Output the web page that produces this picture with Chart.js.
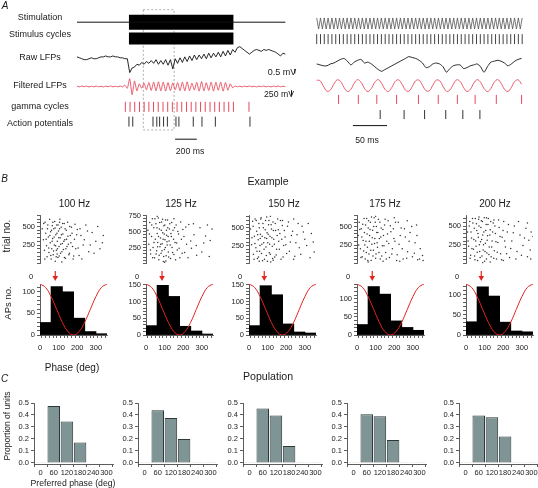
<!DOCTYPE html>
<html lang="en">
<head>
<meta charset="utf-8">
<title>Gamma phase locking</title>
<script src="https://cdn.jsdelivr.net/npm/chart.js@4.4.1/dist/chart.umd.min.js"></script>
<style>
  body { margin: 0; width: 538px; height: 488px; position: relative; overflow: hidden; background: #fff;
         font-family: "Liberation Sans", Arial, sans-serif; color: #1a1a1a; }
  canvas { position: absolute; }
  .txt { position: absolute; white-space: nowrap; line-height: 1; transform: translate(-50%, -50%); font-size: 9px; }
  .vert { transform: translate(-50%, -50%) rotate(-90deg); }
  .letra { font-style: italic; }
</style>
</head>
<body>
<script>
// ---------- Painel A: registro longo (tempo em ms, estímulo começa em 0) ----------
const inicioA = -477;      // início do traçado
const passoA = 22;         // ms entre amostras
const estimuloFim = 960;
// LFP bruto (mV)
const lfpBruto = [0.2,0.1,0,-0.1,-0.1,0,0.1,0,0,0.1,0.2,0.2,0.3,0.2,0.2,0.3,0.2,0.2,0.1,0.1,0,0,
  -1.5,-1.0,-0.9,-0.6,-0.7,-0.4,-0.6,-0.3,-0.5,-0.2,-0.5,-0.1,-0.6,-0.2,-0.6,-0.1,-0.7,-0.1,-1.1,0,
  -0.5,0.1,-0.4,0.2,-0.3,0.3,-0.2,0.4,-0.1,0.4,0,0.5,0,0.6,0.1,0.6,0.2,0.7,0.2,0.8,
  0.3,0.9,0.4,1.0,0.7,1.2,1.3,1.1,0.9,0.7,0.5,0.7,0.9,1.0,0.9,0.8,1.0,0.9,1.0,0.9,
  0.8,0.7,0.5,0.3,0.6,0.5];
// LFP filtrado na banda gama
const lfpFiltrado = [15,-15,20,-10,15,-20,10,-15,20,-15,10,-20,15,-10,20,-15,10,-15,20,-20,
  60,-80,
  350,-370,250,-200,120,-80,150,-150,180,-180,200,-200,210,-200,200,-210,180,-190,160,-150,170,-190,
  200,-200,210,-190,150,-160,190,-210,220,-200,170,-180,200,-210,190,-170,200,-210,180,-170,120,-60,
  20,-15,10,-20,15,-10,20,-15,10,-20,15,-10,20,-15,10,-20,15,-10,20,-15,10,-10];
const ciclosGama = [-33,10,53,97,140,183,226,269,313,356,399,442,485,529,572,615,658,701,745,788,831,874,917,960,1103];
const potenciaisAcao = [0,35,221,256,282,318,353,432,459,591,671,794,1112];

// ---------- Painel A: trecho ampliado (ms) ----------
const passoZoom = 5;
const ciclosEstimulo = [0,5.6,11.1,16.7,22.3,27.9,33.4,39.0,44.6,50.1,55.7,61.3,66.9,72.4,78.0,83.6,89.1,94.7,
  100.3,105.9,111.4,117.0,122.6,128.1,133.7,139.3,144.9,150.4,156.0,161.6,167.1,172.7,178.3,183.9,189.4,195.0,
  200.6,206.1,211.7,217.3,222.9,228.4,234.0,239.6,245.1,250.7,256.3,261.9,267.4,273.0,278.6,284.1,289.7,295.3,300.9];
const lfpBrutoZoom = [0,-0.1,-0.2,-0.2,0,0.1,0.3,0.5,0.6,0.3,-0.1,0.2,0.4,0.5,0.1,0.2,0,-0.3,-0.6,-0.8,
  -0.6,-0.4,-0.2,0,0.2,0.4,0.6,0.8,0.7,0.6,0.4,0.1,-0.4,-0.3,0,0.1,0,-0.3,-0.9,-0.5,
  -0.2,-0.1,-0.1,-0.5,-0.4,-0.2,-0.1,0,-0.3,-0.9,-0.3,0.2,0.3,0.4,0.3,0.1,-0.2,0,0.3,0.5,0.6];
const lfpFiltradoZoom = [0.9,0.81,-0.13,-0.94,-0.75,0.22,0.96,0.69,-0.31,-0.98,-0.62,0.4,0.99,0.55,-0.48,-1,-0.48,
  0.55,1,0.39,-0.62,-0.98,-0.31,0.69,0.96,0.22,-0.75,-0.94,-0.13,0.81,0.9,0.04,-0.86,-0.86,0.04,
  0.9,0.81,-0.13,-0.94,-0.75,0.22,0.96,0.69,-0.31,-0.98,-0.62,0.4,0.99,0.55,-0.48,-1,-0.48,
  0.55,1,0.39,-0.62,-0.98,-0.31,0.69,0.96,0.22];
const ciclosGamaZoom = [32,61,88,117,149,178,206,232,263,300];
const potenciaisZoom = [93,128,158,189,214,239];

// ---------- Painel B: exemplo ----------
const frequencias = ['100 Hz','125 Hz','150 Hz','175 Hz','200 Hz'];
const fasesBins = [30,90,150,210,270,330];
const aps100 = [29,112,100,39,8,3];
const aps125 = [28,148,115,26,12,3];
const aps150 = [28,147,120,33,9,6];
const aps175 = [29,134,113,39,21,13];
const aps200 = [33,120,97,32,10,8];
const eixoMaxAps = [118,152,152,141,127];
const eixoMaxEnsaios = [650,750,670,650,640];
const fasePreferida = [82,86,82,82,82];
const fasesCos = [0,30,60,90,120,150,180,210,240,270,300,330,360];
const cossenoNorm = [1,0.933,0.75,0.5,0.25,0.067,0,0.067,0.25,0.5,0.75,0.933,1];
// rasters: [fase (graus), ensaio]
const raster100 = [[12,470],[18,320],[24,180],[27,560],[31,410],[35,240],[38,90],[42,520],[45,360],[48,150],[52,600],[55,280],[57,430],[60,60],[63,200],[66,510],[68,340],[71,120],[74,470],[77,250],[79,570],[82,30],[85,390],[88,180],[90,520],[93,300],[96,80],[99,440],[102,230],[105,560],[108,350],[110,140],[114,490],[117,20],[120,270],[123,400],[126,190],[130,540],[133,320],[137,70],[141,450],[145,230],[150,370],[155,120],[160,500],[166,280],[172,410],[178,60],[185,330],[192,200],[200,460],[210,110],[220,380],[232,250],[246,520],[262,160],[280,420],[300,300],[322,200],[340,380],
  [20,540],[26,60],[33,330],[40,470],[47,210],[53,380],[58,110],[62,450],[65,300],[69,560],[73,170],[76,360],[81,480],[84,240],[87,90],[91,410],[94,200],[97,520],[101,350],[103,100],[107,600],[111,260],[115,390],[118,160],[122,540],[128,300],[131,80],[135,470],[139,200],[143,330],[148,560],[152,260],[158,140],[163,380],[169,490],[175,230],[181,100],[188,530],[197,390],[205,210],[215,470],[225,60],[238,320],[255,440],[270,250],[290,140],[310,500],[335,280],[105,470],[92,130]];
const raster125 = [[10,520],[15,300],[20,640],[25,150],[30,420],[34,700],[38,250],[42,560],[46,90],[50,380],[53,620],[57,200],[60,470],[63,330],[66,710],[69,60],[72,540],[75,260],[78,400],[81,160],[84,650],[87,310],[90,480],[93,30],[96,590],[99,220],[102,370],[105,680],[108,120],[111,440],[114,290],[117,560],[120,180],[124,350],[128,620],[132,80],[136,420],[140,250],[145,520],[150,140],[156,330],[162,600],[168,210],[175,460],[182,90],[190,380],[198,530],[208,170],[218,300],[230,610],[244,240],[258,450],[272,130],[290,560],[310,320],[330,600],[345,360],[60,740],[100,20],[150,700],
  [18,460],[24,210],[31,600],[36,90],[43,330],[48,700],[54,150],[59,560],[62,260],[67,420],[71,130],[74,640],[79,300],[82,520],[86,200],[89,690],[92,380],[95,110],[98,460],[101,600],[104,250],[107,40],[110,520],[113,340],[116,680],[119,420],[122,100],[126,540],[130,290],[134,470],[138,640],[143,170],[148,380],[153,560],[159,60],[165,320],[171,500],[178,240],[186,650],[194,160],[204,420],[214,570],[226,90],[240,350],[255,620],[270,280],[300,180],[320,430],[340,110],[355,540]];
const raster150 = [[8,480],[14,260],[19,590],[24,130],[29,380],[33,620],[37,220],[41,450],[45,70],[49,330],[53,560],[57,170],[61,410],[65,640],[69,270],[73,40],[77,500],[81,200],[85,360],[89,600],[93,110],[97,430],[101,290],[105,540],[109,150],[113,380],[117,20],[121,480],[125,240],[129,580],[133,340],[138,90],[143,460],[148,200],[154,620],[160,310],[166,420],[172,60],[179,530],[186,250],[194,370],[202,140],[212,580],[222,300],[234,450],[246,100],[258,400],[270,220],[285,520],[300,340],[318,560],[335,420],[350,160],[95,650],[115,660],[55,30],[130,45],[180,600],[240,620],[60,350],
  [16,360],[22,520],[27,60],[32,280],[39,600],[43,170],[47,400],[51,90],[55,500],[59,250],[63,620],[67,140],[71,380],[75,560],[79,290],[83,60],[87,470],[91,230],[95,350],[99,30],[103,410],[107,600],[111,270],[115,130],[119,540],[123,360],[127,70],[131,460],[136,270],[141,560],[146,120],[151,390],[157,470],[163,200],[169,600],[176,340],[183,90],[190,460],[198,260],[207,520],[217,170],[228,390],[240,60],[252,290],[264,560],[278,130],[292,440],[310,250],[328,80],[345,300]];
const raster175 = [[6,380],[12,560],[18,200],[23,470],[28,90],[33,310],[38,610],[42,250],[46,520],[50,150],[54,400],[58,40],[62,580],[66,300],[70,460],[74,180],[78,630],[82,350],[86,100],[90,500],[94,270],[98,560],[102,130],[106,420],[110,220],[115,600],[120,340],[125,60],[130,480],[136,240],[142,380],[148,520],[154,150],[160,300],[167,580],[174,80],[182,430],[190,200],[198,340],[207,560],[216,120],[226,260],[237,480],[248,60],[260,360],[272,160],[285,420],[298,90],[312,280],[326,50],[340,200],[352,110],[320,520],[270,580],[200,620],[100,640],[60,20],[140,30],[230,30],[355,40],
  [9,250],[15,460],[21,80],[26,360],[31,530],[36,170],[40,420],[44,60],[48,300],[52,610],[56,220],[60,480],[64,130],[68,380],[72,560],[76,40],[80,260],[84,450],[88,180],[92,620],[96,340],[100,70],[104,500],[108,280],[112,420],[118,150],[123,560],[128,360],[133,100],[139,460],[145,240],[151,600],[157,60],[164,400],[171,270],[179,510],[187,130],[195,470],[204,300],[213,40],[222,560],[232,380],[243,200],[255,470],[267,70],[280,300],[294,500],[308,140],[322,380],[336,60]];
const raster200 = [[8,420],[14,230],[20,560],[25,110],[30,340],[35,600],[40,190],[44,470],[48,50],[52,300],[56,530],[60,150],[64,400],[68,590],[72,250],[76,80],[80,480],[84,320],[88,560],[92,180],[96,420],[100,30],[104,270],[108,520],[112,140],[116,370],[120,600],[125,220],[130,450],[135,90],[140,300],[146,540],[152,170],[158,400],[164,60],[171,280],[178,480],[186,130],[194,350],[203,560],[212,220],[222,420],[234,80],[246,300],[260,500],[274,160],[290,380],[306,240],[322,470],[338,310],[350,420],[345,180],[330,90],[360,360],[70,620],[110,610],[150,580],[90,10],[130,20],[200,40],
  [11,300],[17,500],[22,70],[27,420],[32,200],[37,540],[42,320],[46,100],[50,600],[54,230],[58,440],[62,40],[66,350],[70,500],[74,160],[78,290],[82,570],[86,100],[90,380],[94,250],[98,610],[102,160],[106,440],[110,60],[114,310],[118,520],[123,120],[128,380],[133,560],[138,220],[143,420],[149,70],[155,500],[161,290],[168,150],[175,580],[183,360],[191,50],[199,440],[208,300],[218,130],[228,520],[240,200],[254,410],[268,60],[282,560],[298,110],[314,340],[330,540],[348,60]];

// ---------- Painel C: população ----------
const fasesPop = ['0','60','120','180','240','300'];
const prop100 = [0.004,0.475,0.345,0.17,0.003,0.003];
const prop125 = [0.004,0.44,0.375,0.2,0.004,0.004];
const prop150 = [0.004,0.455,0.395,0.14,0.004,0.004];
const prop175 = [0.004,0.405,0.39,0.19,0.004,0.004];
const prop200 = [0.004,0.395,0.38,0.22,0.004,0.004];

// Configurações gerais
Chart.defaults.font.family = '"Liberation Sans", Arial, sans-serif';
Chart.defaults.font.size = 7.5;
Chart.defaults.color = '#222';
Chart.defaults.animation = false;
Chart.defaults.responsive = false;
Chart.defaults.events = [];
Chart.defaults.plugins.legend.display = false;
Chart.defaults.plugins.tooltip.enabled = false;

const vermelhoLfp = '#e8485a';
const vermelho = '#e3241f';

// Função para criar um canvas posicionado
function criarCanvas(x, y, w, h) {
  const c = document.createElement('canvas');
  c.width = w; c.height = h;
  c.style.left = x + 'px'; c.style.top = y + 'px';
  document.body.appendChild(c);
  return c;
}

// Função para escrever um texto centrado em (x, y)
function escrever(texto, x, y, tam, classe) {
  const d = document.createElement('div');
  d.className = 'txt' + (classe ? ' ' + classe : '');
  d.textContent = texto;
  d.style.left = x + 'px'; d.style.top = y + 'px';
  if (tam) d.style.fontSize = tam + 'px';
  document.body.appendChild(d);
}

function linha(pontos, cor, largura, extra) {
  return Object.assign({ data: pontos, showLine: true, pointRadius: 0, borderColor: cor, borderWidth: largura, tension: 0 }, extra || {});
}

// marcas verticais (ciclos, potenciais de ação)
function tracos(tempos, yCentro, raio, cor) {
  return { data: tempos.map(t => ({ x: t, y: yCentro })), showLine: false, pointStyle: 'line', pointRotation: 90,
           pointRadius: raio, pointBorderColor: cor, pointBorderWidth: 1 };
}

function opcoesTraco(xmin, xmax, altura) {
  return {
    layout: { padding: 0 },
    scales: {
      x: { type: 'linear', display: false, min: xmin, max: xmax },
      y: { type: 'linear', display: false, min: 0, max: altura, reverse: true }
    }
  };
}

// marcas de eixo a cada "passo", de 0 até o máximo
function marcasEixo(passo) {
  return s => {
    const marcas = [];
    for (let k = 0; k * passo <= s.max + 1e-9; k++) marcas.push({ value: Math.round(k * passo * 1000) / 1000 });
    s.ticks = marcas;
  };
}

// ----- Painel A, esquerda -----
const pxPorMsA = 0.1133, origemA = 128;
const fimA = inicioA + (lfpBruto.length - 1) * passoA;
new Chart(criarCanvas(0, 0, 304, 160), {
  type: 'scatter',
  data: {
    datasets: [
      linha([{ x: inicioA, y: 17.5 }, { x: fimA, y: 17.5 }], '#111', 1),
      linha([{ x: 0, y: 17.5 }, { x: estimuloFim, y: 17.5 }], '#000', 15, { borderCapStyle: 'butt' }),
      linha([{ x: 0, y: 35 }, { x: estimuloFim, y: 35 }], '#000', 12, { borderCapStyle: 'butt' }),
      linha(lfpBruto.map((v, i) => ({ x: inicioA + i * passoA, y: 57 - v * 10 })), '#111', 0.9),
      linha(lfpFiltrado.map((v, i) => ({ x: inicioA + i * passoA, y: 87 - v * 0.024 })), vermelhoLfp, 0.9, { tension: 0.2 }),
      tracos(ciclosGama, 109, 5, vermelhoLfp),
      tracos(potenciaisAcao, 125, 5, '#333'),
      linha([{ x: 132, y: 4 }, { x: 415, y: 4 }, { x: 415, y: 134 }, { x: 132, y: 134 }, { x: 132, y: 4 }], '#999', 0.8, { borderDash: [2, 2] }),
      linha([{ x: 424, y: 144 }, { x: 624, y: 144 }], '#111', 1),
      linha([{ x: 1524, y: 73 }, { x: 1524, y: 73 - 0.5 * 10 }], '#111', 1),
      linha([{ x: 1494, y: 97 }, { x: 1494, y: 97 - 250 * 0.024 }], '#111', 1)
    ]
  },
  options: opcoesTraco(-origemA / pxPorMsA, (304 - origemA) / pxPorMsA, 160)
});

// ----- Painel A, direita (ampliação) -----
const pxPorMsZ = 0.72;
const zigue = [];
ciclosEstimulo.forEach((t, k) => {
  zigue.push({ x: t, y: 13 });
  if (k < ciclosEstimulo.length - 1) zigue.push({ x: (t + ciclosEstimulo[k + 1]) / 2, y: 25 });
});
new Chart(criarCanvas(305, 0, 233, 150), {
  type: 'scatter',
  data: {
    datasets: [
      linha(zigue, '#555', 0.8),
      tracos(ciclosEstimulo, 36, 5, '#444'),
      linha(lfpBrutoZoom.map((v, i) => ({ x: i * passoZoom, y: 63 - v * 10 })), '#111', 0.9, { tension: 0.2 }),
      linha(lfpFiltradoZoom.map((v, i) => ({ x: i * passoZoom, y: 86.5 - v * 6.5 })), vermelhoLfp, 0.9, { tension: 0.4 }),
      tracos(ciclosGamaZoom, 101.5, 4.5, vermelhoLfp),
      tracos(potenciaisZoom, 118, 4.5, '#333'),
      linha([{ x: 53, y: 130 }, { x: 103, y: 130 }], '#111', 1)
    ]
  },
  options: opcoesTraco(-6 / pxPorMsZ, 227 / pxPorMsZ, 150)
});

// ----- Painel B -----
const eixoB = (cfg) => Object.assign({
  grid: { drawOnChartArea: false, tickLength: 3, color: '#333', lineWidth: 0.8 },
  border: { color: '#333', width: 0.8 }
}, cfg);

// seta vermelha indicando a fase preferida
const setaFase = {
  id: 'setaFase',
  afterDatasetsDraw(chart, args, opts) {
    const ctx = chart.ctx, area = chart.chartArea;
    const px = chart.scales.x.getPixelForValue(opts.fase);
    ctx.save();
    ctx.strokeStyle = vermelho; ctx.fillStyle = vermelho; ctx.lineWidth = 1.2;
    ctx.beginPath(); ctx.moveTo(px, area.top - 13); ctx.lineTo(px, area.top - 7); ctx.stroke();
    ctx.beginPath(); ctx.moveTo(px - 2.8, area.top - 8); ctx.lineTo(px + 2.8, area.top - 8); ctx.lineTo(px, area.top - 3); ctx.closePath(); ctx.fill();
    ctx.restore();
  }
};

function criarRaster(eixoX, pontos, ymax) {
  new Chart(criarCanvas(eixoX - 30, 208, 103, 62), {
    type: 'scatter',
    data: { datasets: [{ data: pontos.map(p => ({ x: p[0], y: p[1] })), pointRadius: 0.75, pointBackgroundColor: '#333', pointBorderWidth: 0 }] },
    options: {
      layout: { padding: { top: 7.5, right: 6, bottom: 4.5, left: 0 } },
      scales: {
        x: { type: 'linear', display: false, min: 0, max: 360 },
        y: eixoB({
          min: 0, max: ymax,
          ticks: { autoSkip: false, padding: 2, callback: v => (v > 0 && v % 250 === 0 ? String(v) : '') },
          afterBuildTicks: marcasEixo(50),
          afterFit: s => { s.width = 30; }
        })
      }
    }
  });
}

function criarHistograma(eixoX, contagens, ymax, fase) {
  const larguraArea = 67;
  new Chart(criarCanvas(eixoX - 30, 268, larguraArea + 36, 87), {
    type: 'bar',
    data: {
      datasets: [
        { type: 'line', data: fasesCos.map((f, k) => ({ x: f, y: cossenoNorm[k] * ymax })), borderColor: vermelho,
          borderWidth: 1, pointRadius: 0, tension: 0.4, order: 0 },
        { type: 'bar', data: fasesBins.map((f, k) => ({ x: f, y: contagens[k] })), backgroundColor: '#000',
          barThickness: larguraArea / 6 + 0.3, order: 1 }
      ]
    },
    options: {
      layout: { padding: { top: 16, right: 6, left: 0, bottom: 0 } },
      plugins: { setaFase: { fase: fase } },
      scales: {
        x: eixoB({
          type: 'linear', min: 0, max: 360, offset: false,
          ticks: { autoSkip: false, maxRotation: 0, padding: 5, callback: v => (v % 100 === 0 ? String(v) : '') },
          afterBuildTicks: marcasEixo(20),
          afterFit: s => { s.height = 20; }
        }),
        y: eixoB({
          type: 'linear', min: 0, max: ymax,
          ticks: { autoSkip: false, padding: 2, callback: v => (v % 50 === 0 ? String(v) : '') },
          afterBuildTicks: marcasEixo(10),
          afterFit: s => { s.width = 30; }
        })
      }
    },
    plugins: [setaFase]
  });
}

const eixosB = [40, 146, 249, 357, 466];
const titulosX = [74.5, 181, 284, 385, 495];
const rasters = [raster100, raster125, raster150, raster175, raster200];
const contagensB = [aps100, aps125, aps150, aps175, aps200];
frequencias.forEach((f, k) => {
  criarRaster(eixosB[k], rasters[k], eixoMaxEnsaios[k]);
  criarHistograma(eixosB[k], contagensB[k], eixoMaxAps[k], fasePreferida[k]);
  escrever(f, titulosX[k], 204, 10);
  escrever('0', eixosB[k] - 9, 277, 7.5);
});

// ----- Painel C -----
function criarPopulacao(eixoX, proporcoes) {
  new Chart(criarCanvas(eixoX - 24, 395, 79 + 24 + 2, 83), {
    type: 'bar',
    data: {
      labels: fasesPop,
      datasets: [{ data: proporcoes, backgroundColor: '#7e9495', borderColor: '#2e3838', borderWidth: 1,
                   borderSkipped: false, barPercentage: 1, categoryPercentage: 0.95 }]
    },
    options: {
      layout: { padding: { top: 8, right: 2, left: 0, bottom: 0 } },
      scales: {
        x: eixoB({
          grid: { offset: true, drawOnChartArea: false, tickLength: 3, color: '#333', lineWidth: 0.8 },
          ticks: { padding: 1, maxRotation: 0, autoSkip: false },
          afterFit: s => { s.height = 14; }
        }),
        y: eixoB({
          min: -0.01, max: 0.5,
          ticks: { autoSkip: false, padding: 2, callback: v => v.toFixed(1) },
          afterBuildTicks: marcasEixo(0.1),
          afterFit: s => { s.width = 24; }
        })
      }
    }
  });
}

const eixosC = [34, 138, 243, 347, 459];
[prop100, prop125, prop150, prop175, prop200].forEach((p, k) => criarPopulacao(eixosC[k], p));

// ----- Textos -----
escrever('A', 5, 6, 10, 'letra');
escrever('B', 4.5, 179, 10, 'letra');
escrever('C', 4.5, 379, 10, 'letra');
[['Stimulation', 17], ['Stimulus cycles', 34], ['Raw LFPs', 57], ['Filtered LFPs', 85],
 ['gamma cycles', 106], ['Action potentials', 123]].forEach(r => escrever(r[0], 40, r[1], 9));
escrever('0.5 mV', 282, 72, 9);
escrever('250 mV', 279, 94, 8.7);
escrever('200 ms', 190, 151, 8.7);
escrever('50 ms', 367, 140, 8.7);
escrever('Example', 268, 181, 10.6);
escrever('trial no.', 7, 236, 10, 'vert');
escrever('APs no.', 8, 303, 9.5, 'vert');
escrever('Phase (deg)', 72, 368, 10);
escrever('Population', 268, 376, 10.6);
escrever('Proportion of units', 7, 426, 8.5, 'vert');
escrever('Preferred phase (deg)', 73, 483, 8.7);
</script>
</body>
</html>
